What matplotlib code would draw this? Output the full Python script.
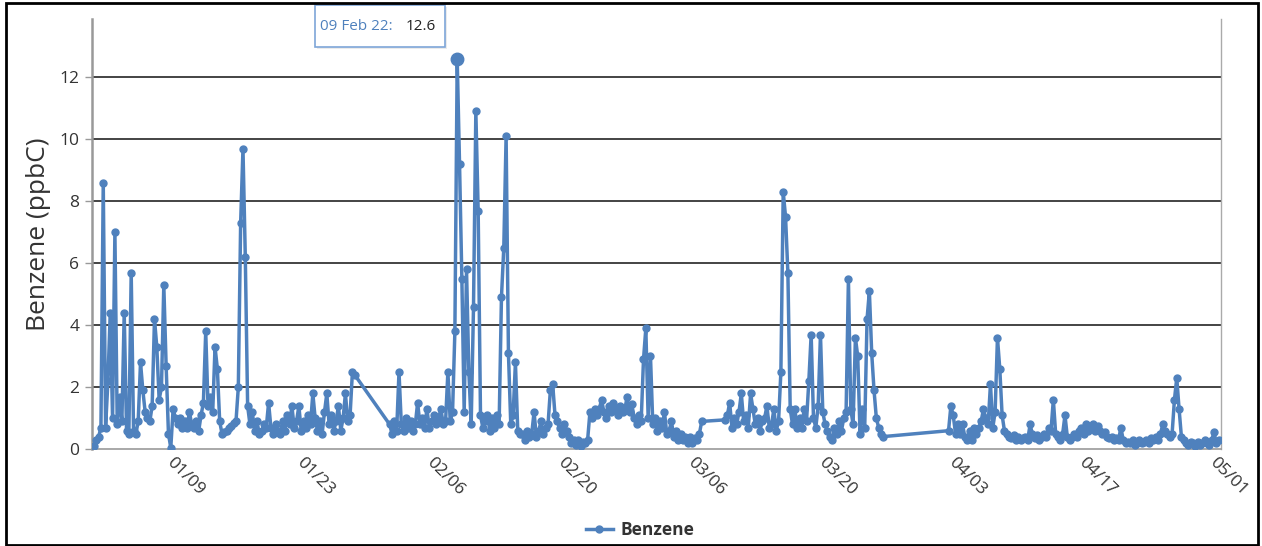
import matplotlib
matplotlib.use('Agg')
import matplotlib.pyplot as plt
import matplotlib.dates as mdates
from matplotlib.patches import Rectangle
import pandas as pd

# 6-hourly benzene (ppbC); the analyser was offline between the runs below
jan01_start = '2022-01-01 00:00'
jan01_ppbc = [
    0.1, 0.3, 0.4, 0.7,
    8.6, 0.7, 2.2, 4.4,
    1.0, 7.0, 0.8, 1.7,
    0.9, 4.4, 0.6, 0.5,
    5.7, 0.6, 0.5, 0.9,
    2.8, 1.9, 1.2, 1.0,
    0.9, 1.4, 4.2, 3.3,
    1.6, 2.0, 5.3, 2.7,
    0.5, 0.05, 1.3, 1.0,
    0.8, 1.0, 0.7, 0.9,
    0.7, 1.2, 0.8, 0.7,
    0.9, 0.6, 1.1, 1.5,
    3.8, 1.4, 1.7, 1.2,
    3.3, 2.6, 0.9, 0.5,
    0.55, 0.6, 0.7, 0.75,
    0.85, 0.9, 2.0, 7.3,
    9.7, 6.2, 1.4, 0.8,
    1.2, 0.6, 0.9, 0.5,
    0.6, 0.8, 0.7, 1.5,
    0.7, 0.5, 0.8, 0.6,
    0.5, 0.9, 0.6, 1.1,
    0.8, 1.4, 0.7, 0.9,
    1.4, 0.6, 0.9, 0.7,
    1.1, 0.8, 1.8, 1.0,
    0.6, 0.9, 0.5, 1.2,
    1.8, 0.8, 1.1, 0.6,
    0.9, 1.4, 0.6, 1.0,
    1.8, 0.9, 1.1, 2.5,
    2.4,
]

feb01_start = '2022-02-01 18:00'
feb01_ppbc = [
    0.8,
    0.5, 0.9, 0.6, 2.5,
    0.8, 0.6, 1.0, 0.7,
    0.9, 0.6, 0.8, 1.5,
    0.8, 1.0, 0.7, 1.3,
    0.7, 0.9, 1.1, 0.8,
    1.0, 1.3, 0.8, 0.9,
    2.5, 0.9, 1.2, 3.8,
    12.6, 9.2, 5.5, 1.2,
    5.8, 2.5, 0.8, 4.6,
    10.9, 7.7, 1.1, 0.7,
    0.9, 1.1, 0.6, 1.0,
    0.7, 1.1, 0.8, 4.9,
    6.5, 10.1, 3.1, 0.8,
    1.1, 2.8, 0.6, 0.5,
    0.5, 0.3, 0.6, 0.4,
    0.5, 1.2, 0.4, 0.6,
    0.9, 0.5, 0.7, 0.8,
    1.9, 2.1, 1.1, 0.9,
    0.7, 0.5, 0.8, 0.6,
    0.4, 0.2, 0.3, 0.15,
    0.3, 0.1, 0.25, 0.2,
    0.3, 1.2, 1.0, 1.3,
    1.1, 1.3, 1.6, 1.2,
    1.0, 1.4, 1.2, 1.5,
    1.3, 1.1, 1.4, 1.2,
    1.3, 1.7, 1.2, 1.45,
    1.0, 0.8, 1.1, 0.9,
    2.9, 3.9, 1.0, 3.0,
    0.8, 1.0, 0.6, 0.9,
    0.7, 1.2, 0.5, 0.6,
    0.9, 0.4, 0.6, 0.3,
    0.5, 0.3, 0.4, 0.2,
    0.4, 0.2, 0.35, 0.3,
    0.5, 0.9,
]

mar09_start = '2022-03-09 18:00'
mar09_ppbc = [
    0.95,
    1.1, 1.5, 0.7, 1.0,
    0.8, 1.2, 1.8, 0.9,
    1.1, 0.7, 1.8, 1.3,
    0.8, 1.0, 0.6, 0.9,
    1.0, 1.4, 0.7, 0.8,
    1.3, 0.6, 0.9, 2.5,
    8.3, 7.5, 5.7, 1.3,
    0.8, 1.3, 0.7, 1.0,
    0.7, 1.3, 0.9, 2.2,
    3.7, 1.0, 0.7, 1.4,
    3.7, 1.2, 0.8, 0.6,
    0.4, 0.3, 0.7, 0.5,
    0.9, 0.6, 1.0, 1.2,
    5.5, 1.3, 0.8, 3.6,
    3.0, 0.5, 1.3, 0.7,
    4.2, 5.1, 3.1, 1.9,
    1.0, 0.7, 0.5, 0.41,
]

apr02_start = '2022-04-02 18:00'
apr02_ppbc = [
    0.6,
    1.4, 1.1, 0.5, 0.8,
    0.5, 0.8, 0.4, 0.3,
    0.6, 0.3, 0.7, 0.5,
    0.7, 0.9, 1.3, 1.0,
    0.8, 2.1, 0.7, 1.2,
    3.6, 2.6, 1.1, 0.6,
    0.5, 0.4, 0.35, 0.45,
    0.3, 0.4, 0.3, 0.35,
    0.4, 0.3, 0.8, 0.5,
    0.35, 0.45, 0.3, 0.4,
    0.5, 0.4, 0.7, 0.6,
    1.6, 0.5, 0.4, 0.3,
    0.5, 1.1, 0.4, 0.3,
    0.4, 0.5, 0.4, 0.6,
    0.7, 0.5, 0.8, 0.6,
    0.7, 0.8, 0.6, 0.75,
    0.6, 0.5, 0.55, 0.4,
    0.35, 0.4, 0.3, 0.35,
    0.3, 0.7, 0.3, 0.2,
    0.25, 0.2, 0.3, 0.15,
    0.2, 0.3, 0.2, 0.25,
    0.3, 0.2, 0.35, 0.3,
    0.4, 0.3, 0.5, 0.8,
    0.6, 0.5, 0.4, 0.5,
    1.6, 2.3, 1.3, 0.4,
    0.3, 0.2, 0.15, 0.25,
    0.2, 0.1, 0.25, 0.15,
    0.2, 0.3, 0.2, 0.15,
    0.3, 0.55, 0.2, 0.3,
]

tick_days = ['2022-01-09', '2022-01-23', '2022-02-06', '2022-02-20', '2022-03-06',
             '2022-03-20', '2022-04-03', '2022-04-17', '2022-05-01']
y_ticks = [0, 2, 4, 6, 8, 10, 12]

runs = [(jan01_start, jan01_ppbc), (feb01_start, feb01_ppbc),
        (mar09_start, mar09_ppbc), (apr02_start, apr02_ppbc)]
parts = []
for start, vals in runs:
    idx = pd.date_range(start, periods=len(vals), freq='6h')
    parts.append(pd.Series(vals, index=idx))
benzene = pd.concat(parts)

blue = '#4F81BD'
plt.rcParams['font.family'] = ['Open Sans', 'DejaVu Sans']

fig = plt.figure(figsize=(12.62, 5.46), dpi=100)
ax = fig.add_axes([92 / 1262, 96.7 / 546, 1129 / 1262, 430.3 / 546])

ax.plot(benzene.index, benzene.values, color=blue, lw=2.5, marker='o', ms=5,
        label='Benzene', zorder=3)

# hovered point
peak_t = benzene.idxmax()
peak_v = benzene.max()
ax.plot([peak_t], [peak_v], 'o', color=blue, ms=9, zorder=4)

ax.set_ylim(0, 13.88)
ax.set_xlim(pd.Timestamp('2022-01-01') - pd.Timedelta(hours=5), pd.Timestamp('2022-05-02'))
ax.set_yticks(y_ticks)
for v in y_ticks[1:]:
    ax.axhline(v, color='#111111', lw=1.1, zorder=1)

ax.set_xticks(pd.to_datetime(tick_days))
ax.xaxis.set_major_formatter(mdates.DateFormatter('%m/%d'))
for lbl in ax.get_xticklabels():
    lbl.set_rotation(-45)
    lbl.set_ha('left')
    lbl.set_va('center')
    lbl.set_rotation_mode('anchor')

ax.tick_params(axis='x', length=0, pad=8, labelsize=12.5, labelcolor='#333333')
ax.tick_params(axis='y', length=5, width=1, color='#999999', pad=4,
               labelsize=12.5, labelcolor='#333333')

ax.spines['top'].set_visible(False)
ax.spines['left'].set_color('#999999')
ax.spines['left'].set_linewidth(1.8)
ax.spines['right'].set_color('#aaaaaa')
ax.spines['right'].set_linewidth(1)
ax.spines['bottom'].set_color('#999999')
ax.spines['bottom'].set_linewidth(1.2)

ax.set_ylabel('Benzene (ppbC)', fontsize=19, color='#333333')
ax.yaxis.set_label_coords(-0.036, 0.5)

leg = ax.legend(loc='center', bbox_to_anchor=(0.507, 0.03), bbox_transform=fig.transFigure,
                frameon=False, handlelength=1.6, handletextpad=0.4,
                prop={'weight': 'bold', 'size': 12.5})
for t in leg.get_texts():
    t.set_color('#333333')

# tooltip for the hovered point
fig.patches.append(Rectangle((317 / 1262, 497 / 546), 130 / 1262, 42 / 546,
                             transform=fig.transFigure, fc='#d8d8d8', ec='none', alpha=0.5))
fig.patches.append(Rectangle((315 / 1262, 499 / 546), 130 / 1262, 42 / 546,
                             transform=fig.transFigure, fc='white', ec='#7ea6d8', lw=1.2))
fig.text(320 / 1262, 520 / 546, peak_t.strftime('%d %b %y') + ':', color=blue,
         fontsize=11, va='center', ha='left')
fig.text(406 / 1262, 520 / 546, f'{peak_v:.1f}', color='#222222',
         fontsize=11, va='center', ha='left')

# outer frame
fig.patches.append(Rectangle((6 / 1262, 1.5 / 546), 1252 / 1262, 542 / 546,
                             transform=fig.transFigure, fill=False, ec='black', lw=2))

fig.savefig('out.png', dpi=100)
